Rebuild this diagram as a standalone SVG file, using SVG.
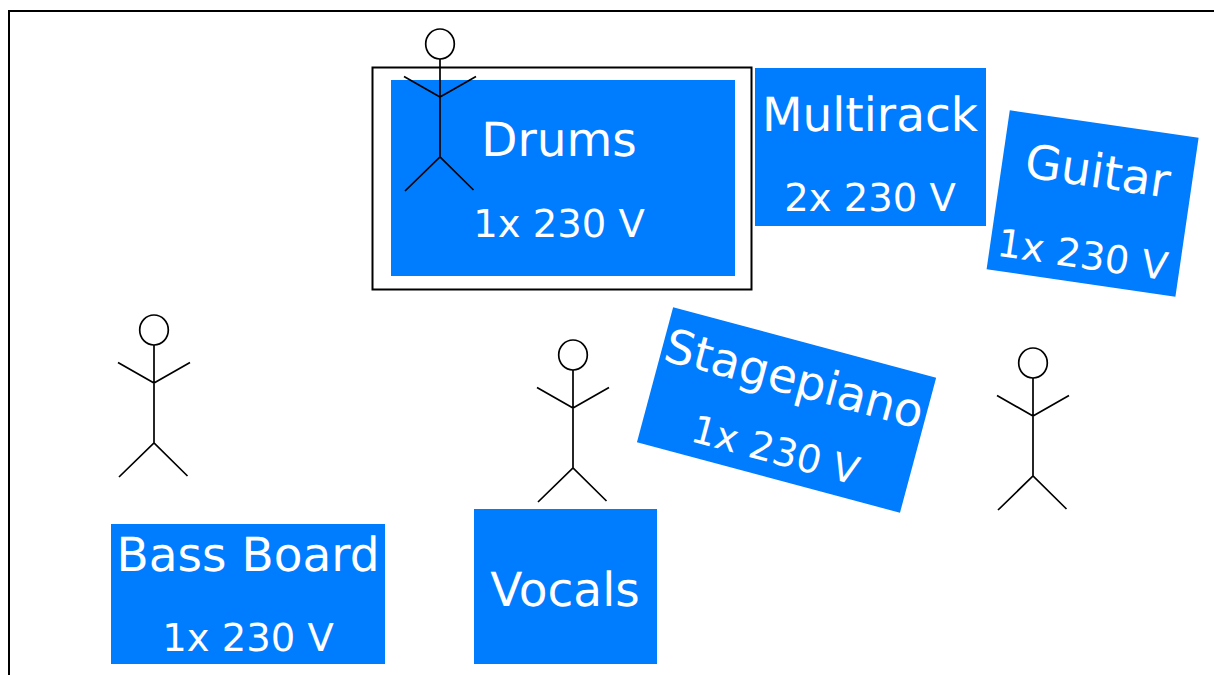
<svg xmlns="http://www.w3.org/2000/svg" width="1214" height="675" viewBox="0 0 1214 675">
<style>
.b{fill:#007cff}
.t{fill:#fff;font-family:"DejaVu Sans",sans-serif;text-anchor:middle;text-rendering:geometricPrecision}
.l{font-size:47px}
.s{font-size:38.500px}
.p{fill:none;stroke:#000;stroke-width:1.700}
.f{fill:none;stroke:#000;stroke-width:2}
.h{fill:#fff;stroke:#000;stroke-width:1.700}
</style>
<defs>
<g id="person">
<ellipse class="h" cx="0" cy="0" rx="14.300" ry="15"/>
<path class="p" d="M0 15V113M-36 32.500L0 53L36 32.500M-35 147L0 113L33.500 146"/>
</g>
</defs>
<rect width="1214" height="675" fill="#fff"/>
<path class="f" d="M9 675V11H1214"/>
<g id="stage"><rect class="f" x="372.500" y="67.500" width="379" height="222"/></g>
<g id="drums"><rect class="b" x="391" y="80" width="344" height="196"/>
<text class="t l" x="559" y="156">Drums</text><text class="t s" x="559" y="237">1x 230 V</text></g>
<g id="multirack"><rect class="b" x="755" y="68" width="231" height="158"/>
<text class="t l" x="870" y="131">Multirack</text><text class="t s" x="870" y="211">2x 230 V</text></g>
<g id="guitar" transform="rotate(8.300 1092.600 203.500)"><rect class="b" x="997.200" y="123.200" width="190.800" height="160.700"/>
<text class="t l" x="1093" y="187">Guitar</text><text class="t s" x="1090" y="269">1x 230 V</text></g>
<g id="stagepiano" transform="rotate(15 786.600 410)"><rect class="b" x="650.400" y="340.100" width="272.300" height="139.800"/>
<text class="t l" x="786" y="394">Stagepiano</text><text class="t s" x="786" y="465">1x 230 V</text></g>
<g id="bass-board"><rect class="b" x="111" y="524" width="274" height="140"/>
<text class="t l" x="248" y="571">Bass Board</text><text class="t s" x="248" y="651">1x 230 V</text></g>
<g id="vocals"><rect class="b" x="474" y="509" width="183" height="155"/>
<text class="t l" x="565" y="606">Vocals</text></g>
<g id="person-drums"><use href="#person" x="440" y="44"/></g>
<g id="person-bass"><use href="#person" x="154" y="330"/></g>
<g id="person-vocals"><use href="#person" x="573" y="355"/></g>
<g id="person-piano"><use href="#person" x="1033" y="363"/></g>
</svg>
